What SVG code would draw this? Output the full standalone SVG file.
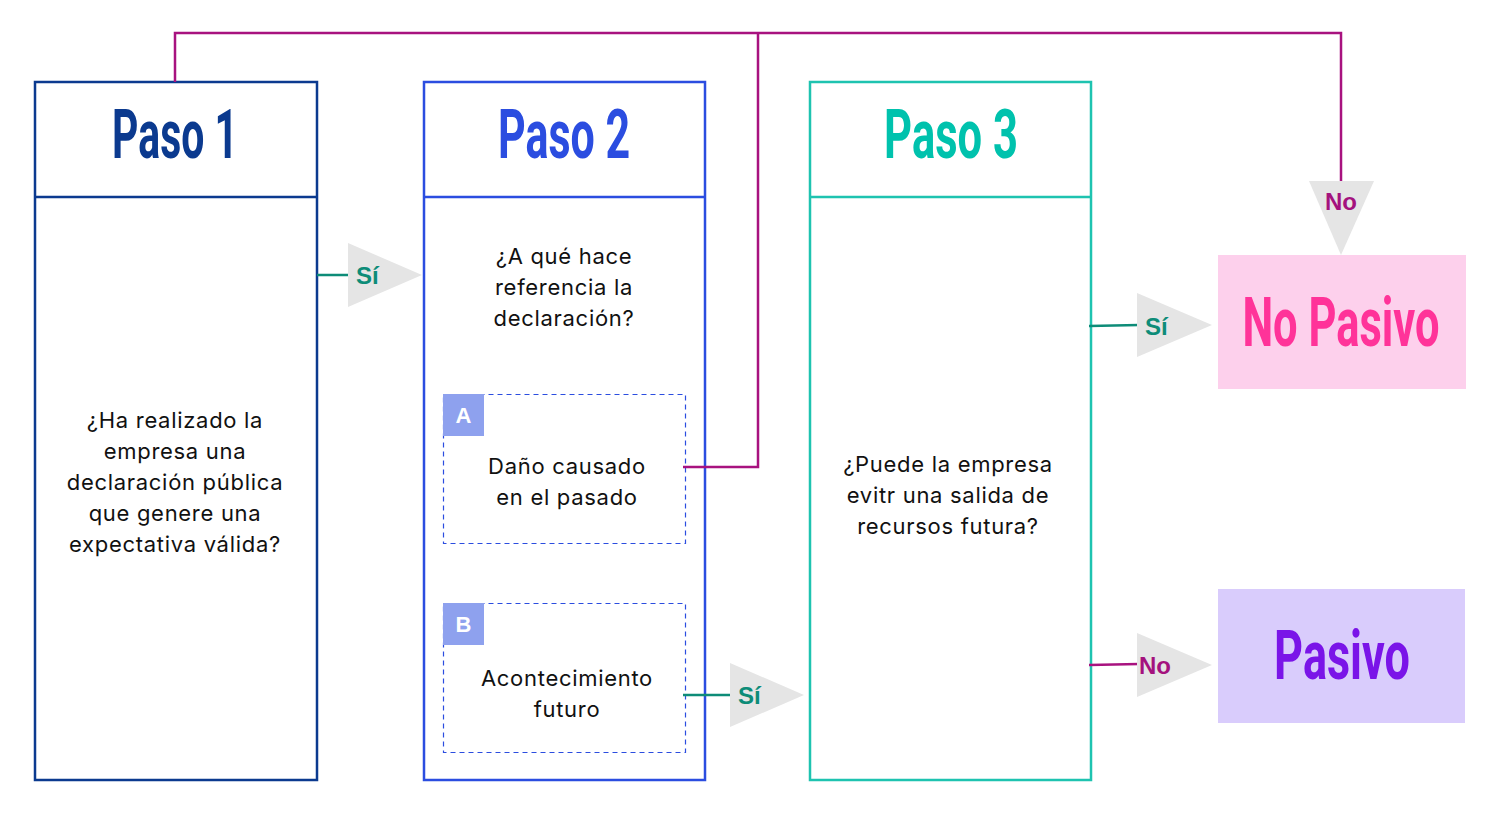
<svg xmlns="http://www.w3.org/2000/svg" width="1500" height="814" viewBox="0 0 1500 814">
<style>
.box{fill:#fff;stroke-width:2.5}
.title{font-family:Roboto,"Liberation Sans",sans-serif;font-weight:700;font-size:68px;text-anchor:middle}
.body{font-family:Inter,"Liberation Sans",sans-serif;font-size:22px;fill:#111;text-anchor:middle;letter-spacing:0.7px}
.tri{fill:#e5e5e5}
.lblY{font-family:"Liberation Sans",Arial,sans-serif;font-weight:700;font-size:24px;fill:#0d8c78}
.lblN{font-family:"Liberation Sans",Arial,sans-serif;font-weight:700;font-size:24px;fill:#a4127e}
.ct{fill:none;stroke:#0d8c78;stroke-width:2.5}
.cn{fill:none;stroke:#a8127f;stroke-width:2.5}
.dash{fill:none;stroke:#2b4de0;stroke-width:1.2;stroke-dasharray:5 4}
.tag{fill:#8ea1ee}
.tagt{font-family:"Liberation Sans",Arial,sans-serif;font-weight:700;font-size:22px;fill:#fff;text-anchor:middle}
</style>
<rect width="1500" height="814" fill="#fff"/>
<g id="paso1">
<rect class="box" x="35" y="82" width="282" height="698" stroke="#0b3a8f"/>
<line x1="35" y1="197" x2="317" y2="197" stroke="#0b3a8f" stroke-width="2.5"/>
<text class="title" transform="translate(175 0) scale(0.62 1)" x="0" y="158" fill="#0b3a8f" textLength="203" lengthAdjust="spacingAndGlyphs">Paso 1</text>
<text class="body" x="175" y="428">¿Ha realizado la</text>
<text class="body" x="175" y="459">empresa una</text>
<text class="body" x="175" y="490">declaración pública</text>
<text class="body" x="175" y="521">que genere una</text>
<text class="body" x="175" y="552">expectativa válida?</text>
</g>
<g id="paso2">
<rect class="box" x="424" y="82" width="281" height="698" stroke="#2b4de0"/>
<line x1="424" y1="197" x2="705" y2="197" stroke="#2b4de0" stroke-width="2.5"/>
<text class="title" transform="translate(564 0) scale(0.62 1)" x="0" y="158" fill="#2b4de0" textLength="213" lengthAdjust="spacingAndGlyphs">Paso 2</text>
<text class="body" x="564" y="264">¿A qué hace</text>
<text class="body" x="564" y="295">referencia la</text>
<text class="body" x="564" y="326">declaración?</text>
</g>
<g id="optA">
<rect class="dash" x="443.5" y="394.5" width="242" height="149"/>
<rect class="tag" x="443" y="394" width="41" height="42"/>
<text class="tagt" x="463.5" y="423">A</text>
<text class="body" x="567" y="474">Daño causado</text>
<text class="body" x="567" y="505">en el pasado</text>
</g>
<g id="optB">
<rect class="dash" x="443.5" y="603.5" width="242" height="149"/>
<rect class="tag" x="443" y="603" width="41" height="42"/>
<text class="tagt" x="463.5" y="632">B</text>
<text class="body" x="567" y="686">Acontecimiento</text>
<text class="body" x="567" y="717">futuro</text>
</g>
<g id="paso3">
<rect class="box" x="810" y="82" width="281" height="698" stroke="#1ec3b0"/>
<line x1="810" y1="197" x2="1091" y2="197" stroke="#1ec3b0" stroke-width="2.5"/>
<text class="title" transform="translate(951 0) scale(0.62 1)" x="0" y="158" fill="#00c2ad" textLength="216" lengthAdjust="spacingAndGlyphs">Paso 3</text>
<text class="body" x="948" y="472">¿Puede la empresa</text>
<text class="body" x="948" y="503">evitr una salida de</text>
<text class="body" x="948" y="534">recursos futura?</text>
</g>
<g id="noPasivo">
<rect x="1218" y="255" width="248" height="134" fill="#fdd0ec"/>
<text class="title" transform="translate(1341 0) scale(0.62 1)" x="0" y="346" fill="#ff3399" textLength="318" lengthAdjust="spacingAndGlyphs">No Pasivo</text>
</g>
<g id="pasivo">
<rect x="1218" y="589" width="247" height="134" fill="#d9ccfc"/>
<text class="title" transform="translate(1342 0) scale(0.62 1)" x="0" y="679" fill="#7a14e8" textLength="219" lengthAdjust="spacingAndGlyphs">Pasivo</text>
</g>
<g id="connectors">
<polyline class="cn" points="175,82 175,33 1341,33 1341,182"/>
<polyline class="cn" points="758,33 758,467 683,467"/>
<line class="ct" x1="317" y1="275" x2="350" y2="275"/>
<line class="ct" x1="683" y1="695" x2="732" y2="695"/>
<line class="ct" x1="1089" y1="326" x2="1139" y2="325"/>
<line class="cn" x1="1089" y1="665" x2="1139" y2="664"/>
</g>
<g id="arrow1">
<polygon class="tri" points="348,243 348,307 422,275"/>
<text class="lblY" x="356" y="284">Sí</text>
</g>
<g id="arrow2">
<polygon class="tri" points="730,663 730,727 804,695"/>
<text class="lblY" x="738" y="704">Sí</text>
</g>
<g id="arrow3">
<polygon class="tri" points="1137,293 1137,357 1212,325"/>
<text class="lblY" x="1145" y="335">Sí</text>
</g>
<g id="arrow4">
<polygon class="tri" points="1137,633 1137,697 1212,665"/>
<text class="lblN" x="1139" y="674">No</text>
</g>
<g id="arrow5">
<polygon class="tri" points="1309,181 1374,181 1341,255"/>
<text class="lblN" x="1341" y="210" text-anchor="middle">No</text>
</g>
</svg>
